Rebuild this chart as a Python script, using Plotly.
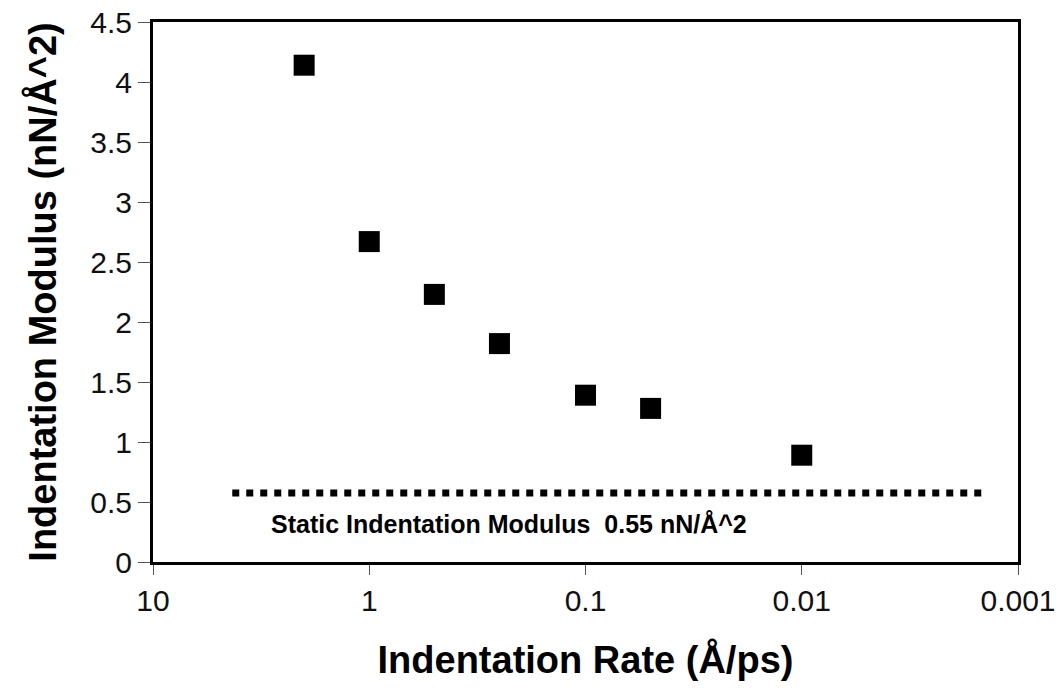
import plotly.graph_objects as go

rate = [2, 1, 0.5, 0.25, 0.1, 0.05, 0.01]
modulus = [4.14, 2.67, 2.23, 1.82, 1.39, 1.28, 0.89]

static_x = [4.3, 0.0014]
static_y = [0.575, 0.575]
static_label = "Static Indentation Modulus  0.55 nN/Å^2"

xtick_vals = [10, 1, 0.1, 0.01, 0.001]
xtick_text = ["10", "1", "0.1", "0.01", "0.001"]
ytick_vals = [0, 0.5, 1, 1.5, 2, 2.5, 3, 3.5, 4, 4.5]
ytick_text = ["0", "0.5", "1", "1.5", "2", "2.5", "3", "3.5", "4", "4.5"]

FONT = "Liberation Sans, Arial"

fig = go.Figure()
fig.add_trace(go.Scatter(x=static_x, y=static_y, mode="lines",
                         line=dict(color="black", width=7, dash="dot"),
                         showlegend=False, hoverinfo="skip"))
fig.add_trace(go.Scatter(x=rate, y=modulus, mode="markers",
                         marker=dict(symbol="square", size=21, color="black"),
                         showlegend=False))

fig.add_annotation(x=-0.646, y=0.32, xref="x", yref="y", showarrow=False,
                   text=static_label,
                   font=dict(family=FONT, size=25, color="black", weight="bold"),
                   xanchor="center", yanchor="middle")

fig.update_layout(
    width=1061, height=694,
    margin=dict(l=153, r=43, t=22, b=132, autoexpand=False),
    paper_bgcolor="white", plot_bgcolor="white",
    font=dict(family=FONT, color="black"),
    xaxis=dict(type="log", range=[1, -3], tickvals=xtick_vals, ticktext=xtick_text,
               automargin=False,
               ticks="outside", ticklen=10, tickcolor="#555", tickwidth=1,
               tickfont=dict(size=30, color="#111"),
               showgrid=False, zeroline=False,
               showline=True, linecolor="black", linewidth=3, mirror=True,
               title=dict(text="Indentation Rate (Å/ps)", standoff=31,
                          font=dict(size=38, weight="bold", color="black"))),
    yaxis=dict(range=[0, 4.5], tickvals=ytick_vals, ticktext=ytick_text,
               automargin=False,
               ticks="outside", ticklen=12, tickcolor="#555", tickwidth=1,
               tickfont=dict(size=30, color="#111"),
               showgrid=False, zeroline=False,
               showline=True, linecolor="black", linewidth=3, mirror=True,
               title=dict(text="Indentation Modulus (nN/Å^2)", standoff=22,
                          font=dict(size=38, weight="bold", color="black"))),
)

fig.write_html("out.html")
